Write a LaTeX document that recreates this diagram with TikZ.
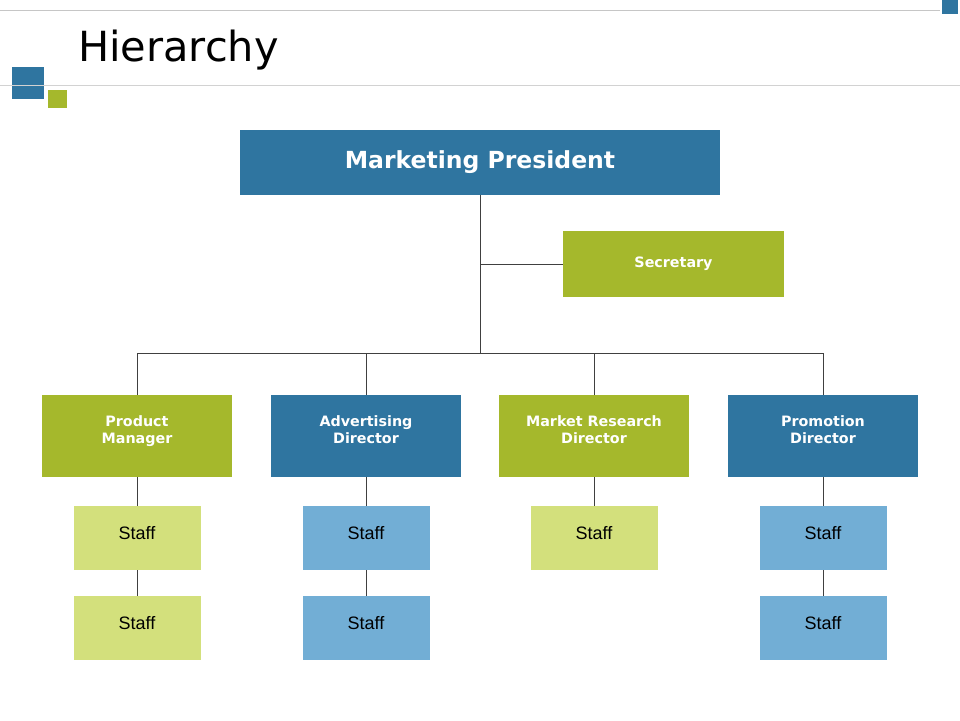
\documentclass[tikz,border=0pt]{standalone}
\usepackage{fontspec}
\setmainfont{DejaVu Sans}
\newfontfamily\stafffont{Liberation Sans}
\usepackage{tikz}
\definecolor{bluecol}{HTML}{2F75A0}
\definecolor{greencol}{HTML}{A5B82C}
\definecolor{lightgreen}{HTML}{D3E07C}
\definecolor{lightblue}{HTML}{72AED5}
\definecolor{linecol}{HTML}{404040}

\begin{document}
\begin{tikzpicture}[x=1pt, y=-1pt,
  box/.style={inner sep=0pt, text=white, align=center,
    font=\fontsize{14.3}{17}\selectfont\bfseries},
  bigbox/.style={box, fill=#1, minimum width=190pt, minimum height=82pt,
    text height=28pt, text depth=14pt},
  staff/.style={fill=#1, inner sep=0pt, minimum width=127pt, minimum height=64pt,
    font=\stafffont\fontsize{18}{20}\selectfont, text=black,
    text height=13pt, text depth=10pt},
  link/.style={draw=linecol, line width=0.9pt}]
  \useasboundingbox (0,0) rectangle (960,720);
  \fill[white] (0,0) rectangle (960,720);
  % title bar
  \draw[gray!45, line width=1pt] (0,10) -- (940,10);
  \fill[bluecol] (942,0) rectangle (958,14);
  \fill[bluecol] (12,67) rectangle (44,99);
  \fill[greencol] (48,90) rectangle (67,108);
  \draw[gray!35, line width=1pt] (0,85) -- (960,85);
  \node[anchor=base west, inner sep=0pt, font=\fontsize{41.5}{45}\selectfont] (title) at (78,61) {Hierarchy};

  % top of the chart
  \node[box, fill=bluecol, minimum width=480pt, minimum height=65pt,
    font=\fontsize{23.5}{26}\selectfont\bfseries] (pres) at (480,162.5) {Marketing President};
  \node[box, fill=greencol, minimum width=221pt, minimum height=66pt] (sec) at (673.5,264) {Secretary};
  \coordinate (bus) at (480,353);

  % directors
  \node[bigbox=greencol] (pm) at (137,436) {Product\\Manager};
  \node[bigbox=bluecol] (ad) at (366,436) {Advertising\\Director};
  \node[bigbox=greencol] (mr) at (594,436) {Market Research\\Director};
  \node[bigbox=bluecol] (pd) at (823,436) {Promotion\\Director};

  % staff
  \node[staff=lightgreen] (pm1) at (137,538) {Staff};
  \node[staff=lightgreen] (pm2) at (137,628) {Staff};
  \node[staff=lightblue] (ad1) at (366,538) {Staff};
  \node[staff=lightblue] (ad2) at (366,628) {Staff};
  \node[staff=lightgreen] (mr1) at (594,538) {Staff};
  \node[staff=lightblue] (pd1) at (823,538) {Staff};
  \node[staff=lightblue] (pd2) at (823,628) {Staff};

  % connectors
  \draw[link] (pres.south) -- (bus);
  \draw[link] (pres.south |- sec.west) -- (sec.west);
  \draw[link] (pm.north |- bus) -- (pd.north |- bus);
  \foreach \n in {pm,ad,mr,pd}
    \draw[link] (\n.north |- bus) -- (\n.north);
  \foreach \n in {pm,ad,mr,pd}
    \draw[link] (\n.south) -- (\n1.north);
  \foreach \n in {pm,ad,pd}
    \draw[link] (\n1.south) -- (\n2.north);
\end{tikzpicture}
\end{document}
